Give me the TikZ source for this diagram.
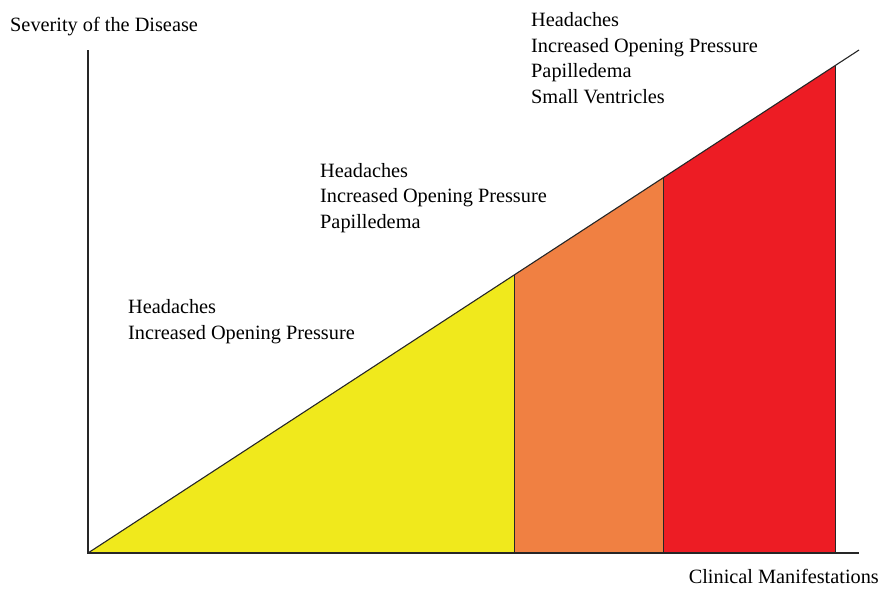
\documentclass[tikz,border=0pt]{standalone}
\usepackage{fontspec}
\setmainfont{Liberation Serif}
\definecolor{sevyellow}{RGB}{240,233,28}
\definecolor{sevorange}{RGB}{240,128,66}
\definecolor{sevred}{RGB}{237,28,36}
\begin{document}
\begin{tikzpicture}[x=1pt,y=-1pt,
  axis/.style={line width=1.3pt,draw=black!85},
  zone/.style={draw=black!85,line width=1pt},
  lbl/.style={font=\fontsize{20.3}{25.5}\selectfont,inner sep=0pt,anchor=base west,align=left}]
\useasboundingbox (0,0) rectangle (881,590);
% key points
\coordinate (O) at (88,553);
\coordinate (Ytop) at (88,50);
\coordinate (Xend) at (859,553);
\coordinate (Dend) at (859,50);
\coordinate (A) at (514,275.1);
\coordinate (Ab) at (514,553);
\coordinate (B) at (663,177.9);
\coordinate (Bb) at (663,553);
\coordinate (C) at (835,65.7);
\coordinate (Cb) at (835,553);
% zones
\fill[sevyellow] (O) -- (A) -- (Ab) -- cycle;
\fill[sevorange] (Ab) -- (A) -- (B) -- (Bb) -- cycle;
\fill[sevred] (Bb) -- (B) -- (C) -- (Cb) -- cycle;
\draw[zone] (A) -- (Ab);
\draw[zone] (B) -- (Bb);
\draw[zone] (C) -- (Cb);
% axes and diagonal
\draw[axis] (Ytop) -- (O) -- (Xend);
\draw[axis,line width=1.1pt] (O) -- (Dend);
% labels (multi-line nodes: base anchor = last line)
\node[lbl] (ylab) at (10,31) {Severity of the Disease};
\node[lbl,anchor=base east] (xlab) at (879,583) {Clinical Manifestations};
\node[lbl] (low) at (128,339) {Headaches\\Increased Opening Pressure};
\node[lbl] (mid) at (320,228) {Headaches\\Increased Opening Pressure\\Papilledema};
\node[lbl] (high) at (531,103) {Headaches\\Increased Opening Pressure\\Papilledema\\Small Ventricles};
\end{tikzpicture}
\end{document}
